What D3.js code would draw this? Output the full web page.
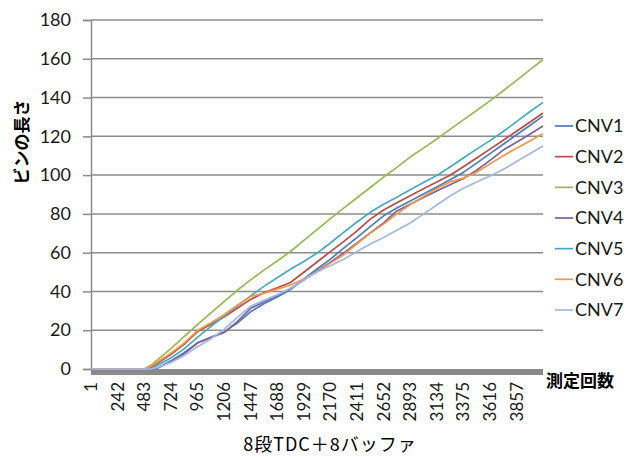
<!DOCTYPE html>
<html>
<head>
<meta charset="utf-8">
<script src="https://cdn.jsdelivr.net/npm/d3@7"></script>
<style>
  html, body { margin: 0; padding: 0; background: #fff; }
  svg { display: block; }
</style>
</head>
<body>
<svg id="chart" width="633" height="457"></svg>
<script>
// Measurement index (category) at which each value was sampled
const sampleCats = [1, 242, 483, 543, 603, 724, 844, 965, 1085, 1206, 1326, 1447, 1567, 1688, 1808,
  1929, 2049, 2170, 2290, 2411, 2531, 2652, 2772, 2893, 3013, 3134, 3254, 3375, 3495, 3616, 3736,
  3857, 3977, 4096];

// Bin length per converter
const cnv1 = [0, 0, 0, 0, 0.5, 4.2, 8.4, 13.5, 16.4, 19.0, 23.7, 29.5, 33.6, 37.1, 41.0, 46.4, 51.6,
  56.7, 62.3, 67.8, 73.4, 79.0, 83.0, 86.6, 90.3, 93.9, 97.6, 101.4, 106.2, 111.1, 115.9, 120.8, 125.6, 130.4];
const cnv2 = [0, 0, 0, 0.7, 2.9, 7.4, 12.7, 19.3, 23.0, 26.8, 31.3, 35.9, 39.3, 41.9, 44.6, 49.9, 55.2,
  60.5, 65.7, 71.2, 77.3, 82.0, 85.7, 89.3, 93.0, 96.4, 99.9, 104.3, 108.8, 113.4, 118.0, 122.6, 127.3, 132.0];
const cnv3 = [0, 0, 0, 1.9, 4.7, 10.5, 16.7, 22.9, 28.8, 34.8, 40.6, 46.0, 51.0, 55.7, 60.6, 66.3, 71.9,
  77.6, 83.0, 88.3, 93.6, 99.0, 104.0, 109.3, 113.9, 118.6, 123.6, 128.5, 133.3, 138.3, 143.5, 148.9, 154.3, 159.5];
const cnv4 = [0, 0, 0, 0, 0.5, 3.6, 7.8, 13.4, 16.1, 18.8, 24.4, 31.3, 34.6, 37.9, 41.5, 45.9, 50.4,
  55.1, 59.8, 65.0, 70.2, 75.4, 81.5, 85.0, 88.4, 91.8, 95.0, 98.2, 102.5, 107.6, 112.9, 117.0, 121.1, 125.3];
const cnv5 = [0, 0, 0, 0, 1.9, 5.7, 10.4, 16.3, 21.9, 27.2, 32.4, 37.7, 42.6, 47.1, 51.4, 55.4, 59.8,
  65.0, 70.5, 75.8, 80.8, 85.0, 88.6, 92.4, 96.2, 99.8, 104.2, 108.8, 113.4, 117.8, 122.5, 127.6, 132.7, 137.5];
const cnv6 = [0, 0, 0, 1.4, 3.6, 8.1, 13.3, 19.8, 23.7, 28.0, 32.9, 37.4, 39.0, 41.2, 43.3, 46.4, 50.2,
  54.6, 58.9, 64.6, 70.1, 74.7, 80.0, 84.8, 89.0, 93.0, 96.5, 98.5, 101.5, 105.8, 110.0, 113.8, 117.6, 121.4];
const cnv7 = [0, 0, 0, 0, 0.8, 3.4, 6.9, 11.5, 15.5, 20.4, 26.6, 32.4, 35.4, 38.3, 41.5, 46.2, 50.0,
  53.3, 56.6, 60.6, 64.5, 67.8, 71.5, 75.3, 79.9, 84.6, 89.2, 93.2, 96.4, 99.5, 102.9, 107.0, 111.0, 115.0];

const seriesNames = ["CNV1", "CNV2", "CNV3", "CNV4", "CNV5", "CNV6", "CNV7"];
const seriesColors = ["#4a7ebb", "#be4b48", "#98b954", "#7d60a0", "#46aac5", "#f69545", "#a3b8e2"];
const seriesValues = [cnv1, cnv2, cnv3, cnv4, cnv5, cnv6, cnv7];

const categoryCount = 4096;
const xTickLabels = [1, 242, 483, 724, 965, 1206, 1447, 1688, 1929, 2170, 2411, 2652, 2893, 3134, 3375, 3616, 3857];
const yTicks = [0, 20, 40, 60, 80, 100, 120, 140, 160, 180];

const svg = d3.select("#chart");
const plot = { left: 91, right: 543, top: 20, bottom: 369 };

const x = d3.scaleLinear().domain([0.5, categoryCount + 0.5]).range([plot.left, plot.right]);
const y = d3.scaleLinear().domain([0, 180]).range([plot.bottom, plot.top]);

const tickFont = "Lato, 'Liberation Sans', sans-serif";
const cjkFont = "'Noto Sans CJK JP', sans-serif";

// horizontal gridlines
svg.append("g")
  .selectAll("line")
  .data(yTicks.filter(d => d > 0))
  .join("line")
  .attr("x1", plot.left).attr("x2", plot.right)
  .attr("y1", d => y(d)).attr("y2", d => y(d))
  .attr("stroke", "#8c8c8c").attr("stroke-width", 1.5);

// value axis
const yAxis = svg.append("g")
  .attr("transform", `translate(${plot.left},0)`)
  .call(d3.axisLeft(y).tickValues(yTicks).tickSize(8).tickPadding(12));
yAxis.select(".domain").attr("stroke", "#8c8c8c").attr("stroke-width", 1.5);
yAxis.selectAll(".tick line").attr("stroke", "#8c8c8c").attr("stroke-width", 1.5);
yAxis.selectAll(".tick text")
  .attr("font-family", tickFont).attr("font-size", 18).attr("fill", "#1a1a1a");

// category axis: dense tick marks form a solid band under the plot
svg.append("rect")
  .attr("x", x(0.5)).attr("y", y(0))
  .attr("width", x(categoryCount + 0.5) - x(0.5)).attr("height", 6)
  .attr("fill", "#8a8a8a");

const xLabels = svg.append("g");
xLabels.selectAll("text")
  .data(xTickLabels)
  .join("text")
  .attr("transform", d => `translate(${x(d)},382) rotate(-90)`)
  .attr("text-anchor", "end")
  .attr("dy", "0.35em")
  .attr("font-family", tickFont).attr("font-size", 17).attr("fill", "#1a1a1a")
  .text(d => d);

// series lines
const line = d3.line()
  .x((d, i) => x(sampleCats[i]))
  .y(d => y(d));

svg.append("g")
  .selectAll("path")
  .data(seriesValues)
  .join("path")
  .attr("d", d => line(d))
  .attr("fill", "none")
  .attr("stroke", (d, i) => seriesColors[i])
  .attr("stroke-width", 1.7)
  .attr("stroke-linejoin", "round");

// legend
const legend = svg.append("g");
const legendY = d3.scalePoint().domain(seriesNames).range([126, 310]);
const items = legend.selectAll("g").data(seriesNames).join("g")
  .attr("transform", d => `translate(0,${legendY(d)})`);
items.append("line")
  .attr("x1", 555).attr("x2", 573).attr("y1", 0).attr("y2", 0)
  .attr("stroke", (d, i) => seriesColors[i]).attr("stroke-width", 1.7);
items.append("text")
  .attr("x", 575).attr("dy", "0.35em")
  .attr("font-family", tickFont).attr("font-size", 18).attr("fill", "#1a1a1a")
  .text(d => d);

// axis titles
svg.append("text")
  .attr("transform", "translate(22,142) rotate(-90)")
  .attr("text-anchor", "middle").attr("dy", "0.35em")
  .attr("font-family", cjkFont).attr("font-size", 17).attr("font-weight", 700)
  .text("ビンの長さ");

svg.append("text")
  .attr("x", 546).attr("y", 381).attr("dy", "0.35em")
  .attr("font-family", cjkFont).attr("font-size", 17).attr("font-weight", 700)
  .text("測定回数");

svg.append("text")
  .attr("x", 330).attr("y", 445).attr("dy", "0.35em")
  .attr("text-anchor", "middle")
  .attr("letter-spacing", 1)
  .attr("font-family", cjkFont).attr("font-size", 18)
  .text("8段TDC＋8バッファ");
</script>
</body>
</html>
